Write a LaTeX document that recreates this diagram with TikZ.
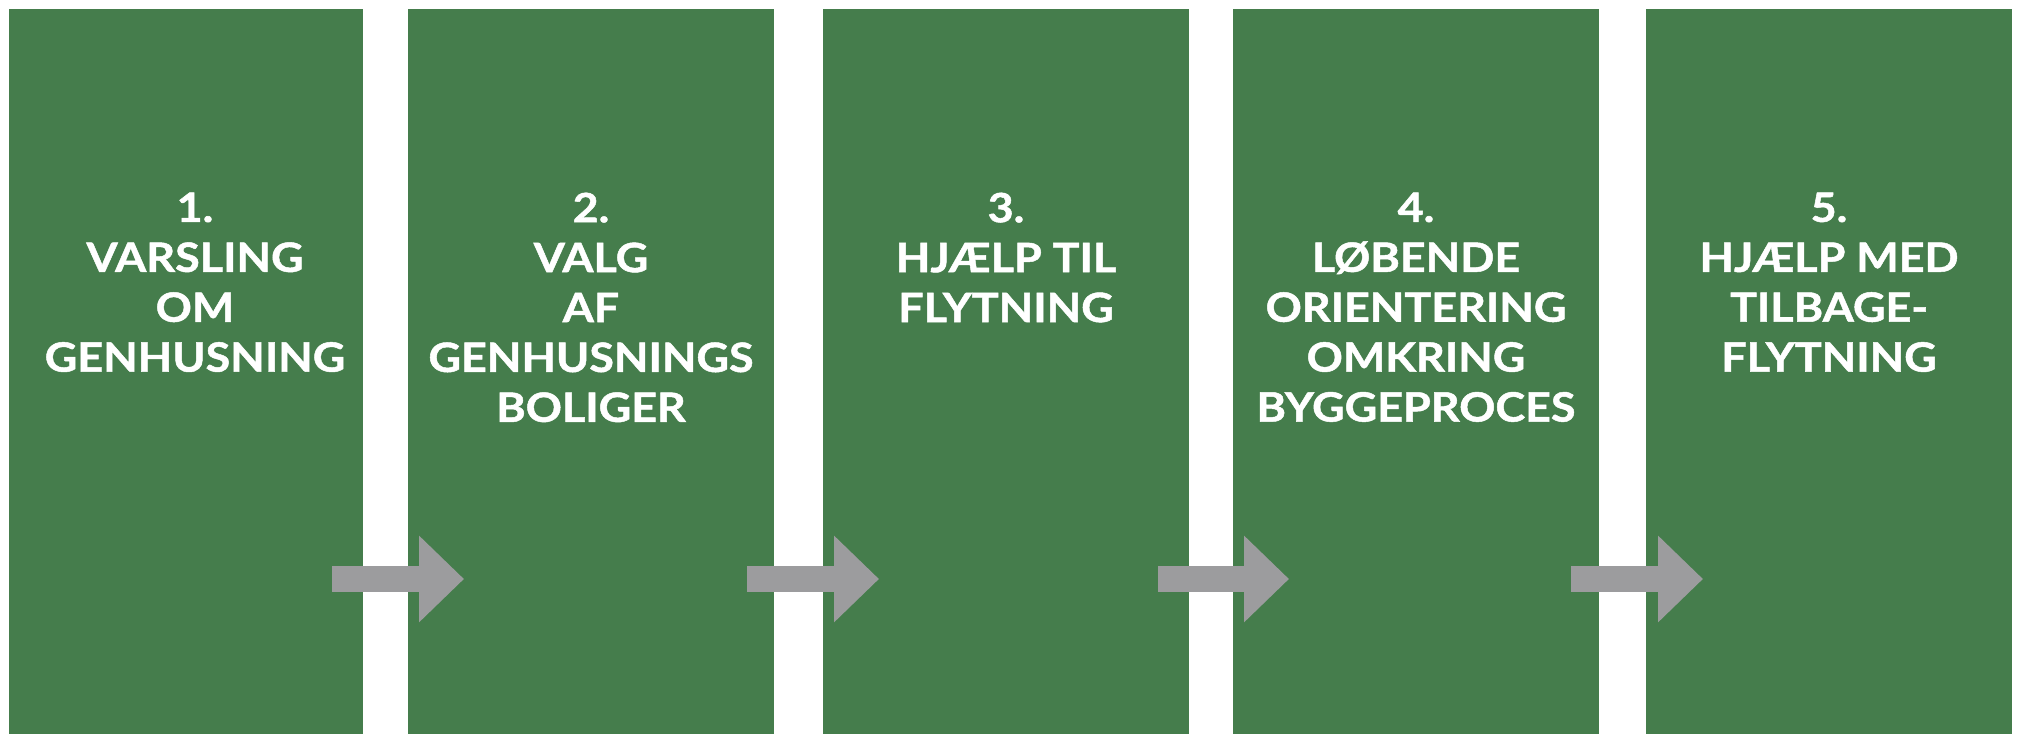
\documentclass[tikz,border=0pt]{standalone}
\usepackage{fontspec}
\setmainfont{Lato}
\newfontfamily\stepfont{Lato}[FakeStretch=1.11,FakeBold=1.2]
\usepackage{tikz}
\usetikzlibrary{arrows.meta,positioning}
\definecolor{stepgreen}{HTML}{457D4C}
\definecolor{flowgrey}{HTML}{9C9C9E}
\tikzset{
  stepbox/.style={fill=stepgreen,draw=none,minimum height=72.5mm,inner sep=0pt,outer sep=0pt},
  widebox/.style={stepbox,minimum width=36.6mm},
  steptext/.style={text=white,align=center,inner sep=0pt,font=\stepfont\bfseries\fontsize{11.5}{14.2}\selectfont},
  flow/.style={-{Triangle[length=4.5mm,width=8.4mm]},line width=2.6mm,draw=flowgrey}
}
\begin{document}
\begin{tikzpicture}
\useasboundingbox (0,0) rectangle (20.2,-7.34);
\node[stepbox,minimum width=35.4mm] (b1) at (1.86,-3.715) {};
\node[widebox,right=4.5mm of b1] (b2) {};
\node[widebox,right=4.9mm of b2] (b3) {};
\node[widebox,right=4.4mm of b3] (b4) {};
\node[widebox,right=4.7mm of b4] (b5) {};
% texts
\node[steptext,below=18.3mm of b1.north,xshift=0.9mm] (t1) {1.\\VARSLING\\OM\\GENHUSNING};
\node[steptext,below=18.3mm of b2.north] (t2) {2.\\VALG\\AF\\GENHUSNINGS\\BOLIGER};
\node[steptext,below=18.3mm of b3.north] (t3) {3.\\HJÆLP TIL\\FLYTNING};
\node[steptext,below=18.3mm of b4.north] (t4) {4.\\LØBENDE\\ORIENTERING\\OMKRING\\BYGGEPROCES};
\node[steptext,below=18.3mm of b5.north] (t5) {5.\\HJÆLP MED\\TILBAGE-\\FLYTNING};
% arrows
\draw[flow] ([xshift=-3.1mm,yshift=-20.75mm]b1.east) -- ([xshift=5.6mm,yshift=-20.75mm]b2.west);
\draw[flow] ([xshift=-2.7mm,yshift=-20.75mm]b2.east) -- ([xshift=5.6mm,yshift=-20.75mm]b3.west);
\draw[flow] ([xshift=-3.1mm,yshift=-20.75mm]b3.east) -- ([xshift=5.6mm,yshift=-20.75mm]b4.west);
\draw[flow] ([xshift=-2.8mm,yshift=-20.75mm]b4.east) -- ([xshift=5.7mm,yshift=-20.75mm]b5.west);
\end{tikzpicture}
\end{document}
